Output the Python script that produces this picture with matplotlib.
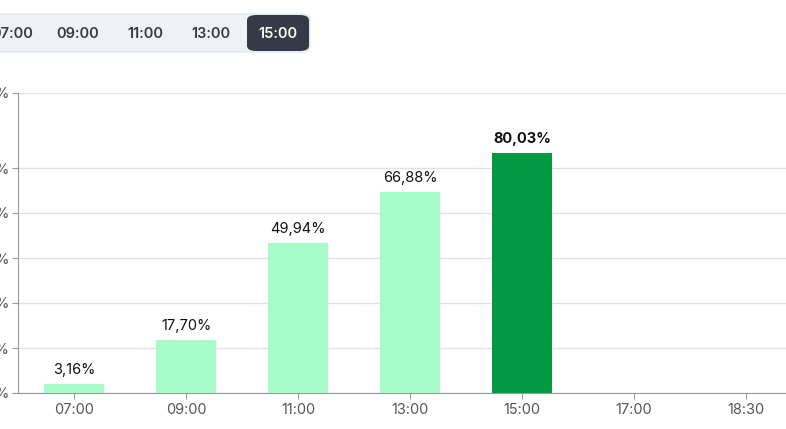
import matplotlib
matplotlib.use("Agg")
import matplotlib.pyplot as plt
from matplotlib.patches import FancyBboxPatch

categories = ["07:00", "09:00", "11:00", "13:00", "15:00", "17:00", "18:30"]
values = [3.16, 17.70, 49.94, 66.88, 80.03, None, None]
labels = ["3,16%", "17,70%", "49,94%", "66,88%", "80,03%", None, None]
yticks = [0, 15, 30, 45, 60, 75, 100]
buttons = ["07:00", "09:00", "11:00", "13:00", "15:00"]
active = "15:00"

plt.rcParams['font.family'] = ['Inter', 'DejaVu Sans']
W, H = 786, 429
fig = plt.figure(figsize=(W/100, H/100), dpi=100)
ax = fig.add_axes([18/W, 36/H, 784/W, 300/H])
xs = list(range(len(categories)))
for i, (v, l) in enumerate(zip(values, labels)):
    if v is None:
        continue
    hi = categories[i] == active
    ax.bar(i, v, width=0.53, color="#009a44" if hi else "#a6fcc9", zorder=3)
    ax.text(i, v + 2.3, l, ha="center", va="bottom", fontsize=10.5,
            color="#111111", fontweight="bold" if hi else "normal")
ax.set_xlim(-0.5, 6.5)
ax.set_ylim(0, 100)
ax.set_yticks(yticks)
ax.set_yticklabels([f"{t}%" for t in yticks], fontsize=10.5, color="#555555")
ax.set_xticks(xs)
ax.set_xticklabels(categories, fontsize=10.5, color="#555555")
ax.grid(axis="y", color="#e2e2e2", lw=1, zorder=0)
for s in ["top", "right"]:
    ax.spines[s].set_visible(False)
for s in ["left", "bottom"]:
    ax.spines[s].set_color("#999999")
ax.tick_params(axis="y", length=4, color="#999999", pad=2)
ax.tick_params(axis="x", length=4, color="#999999", pad=3)

def px(x, y):
    return x / W, 1 - y / H
bar = FancyBboxPatch(px(-20, 52), 330/W, 38/H, boxstyle="round,pad=0,rounding_size=0.012",
                     transform=fig.transFigure, fc="#eef2f6", ec="#e3e8ee", lw=1)
fig.patches.append(bar)
act = FancyBboxPatch(px(247, 51), 62/W, 36/H, boxstyle="round,pad=0,rounding_size=0.012",
                     transform=fig.transFigure, fc="#353b46", ec="none")
fig.patches.append(act)
bx = [12, 78, 145, 211, 278]
for x, b in zip(bx, buttons):
    fig.text(*px(x, 34), b, ha="center", va="center", fontsize=10.5, fontweight="semibold",
             color="white" if b == active else "#333a44")
fig.savefig("out.png", dpi=100)
